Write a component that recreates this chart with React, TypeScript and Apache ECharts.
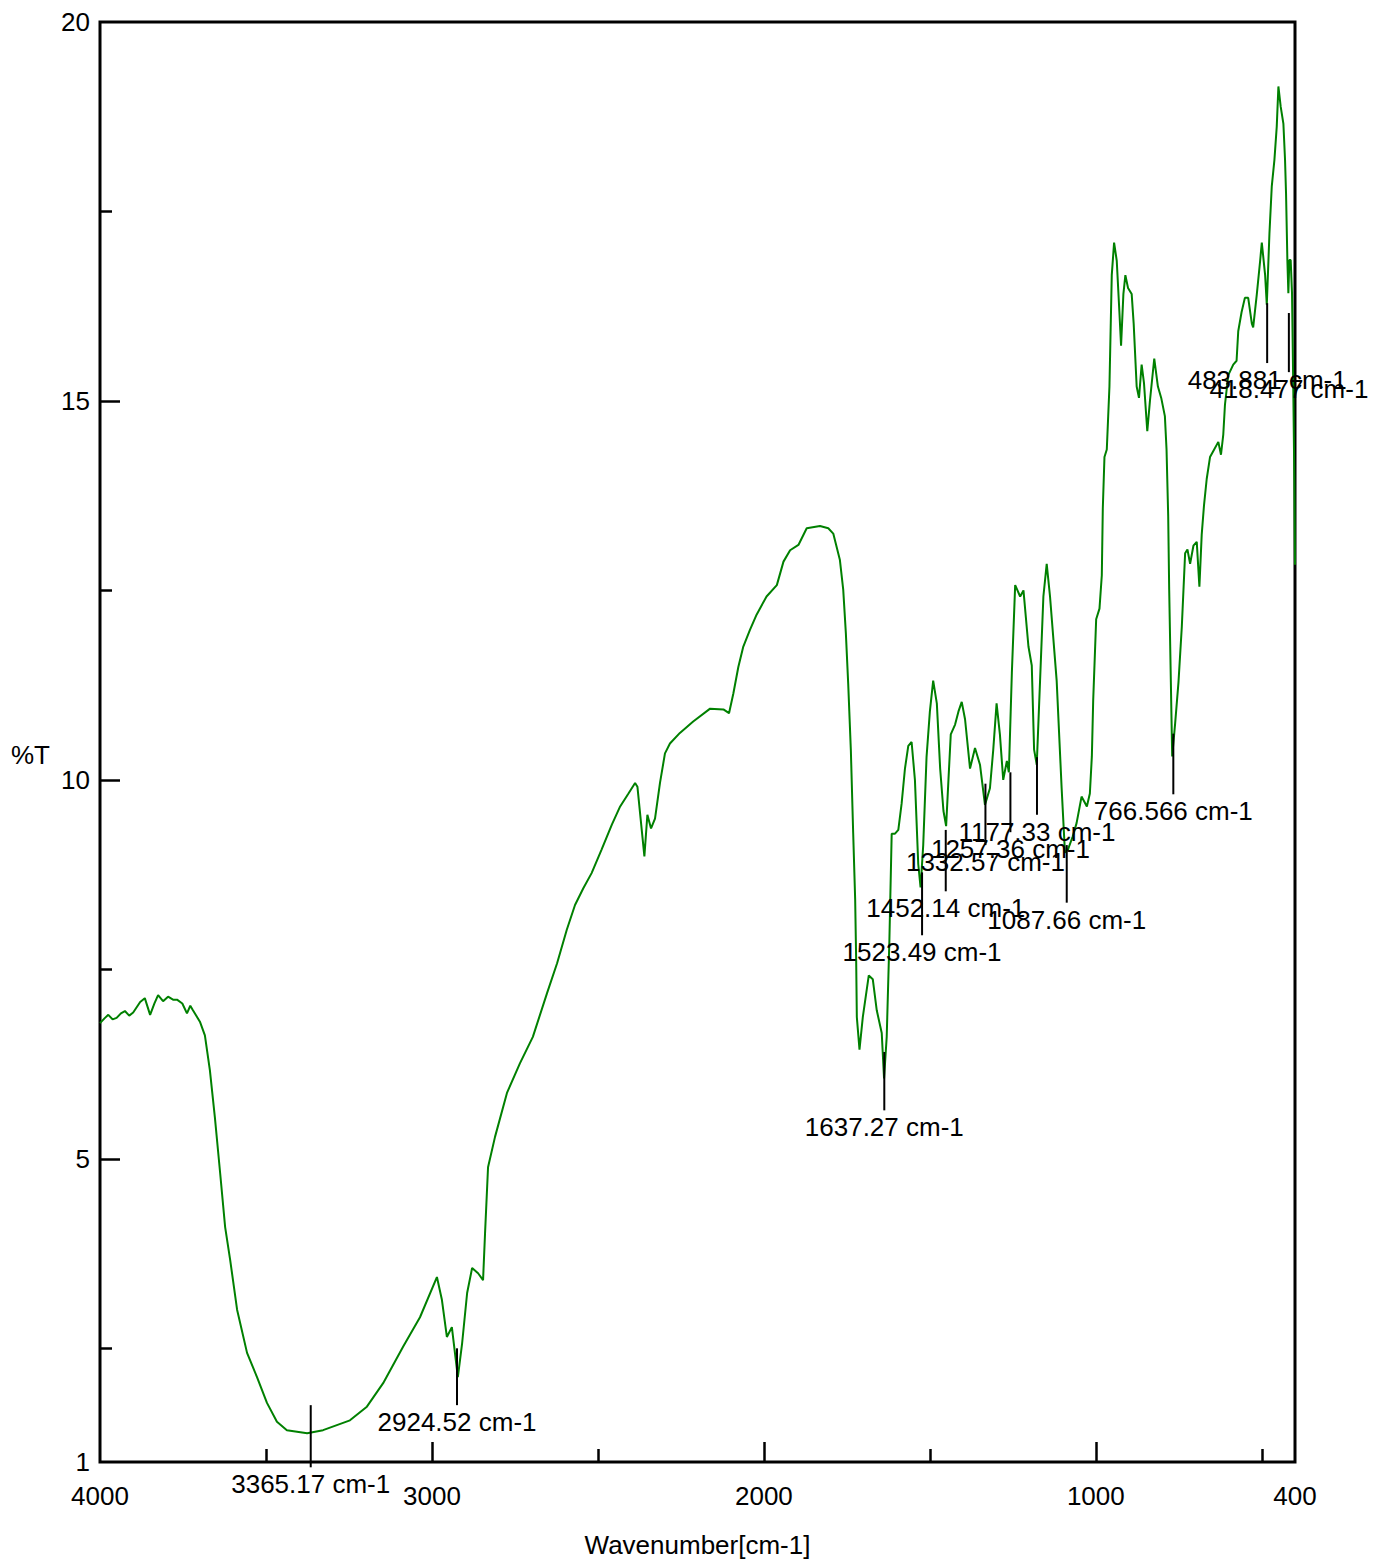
import React, { useEffect, useRef } from "react";
import * as echarts from "echarts";

const FONT = '"Liberation Sans", Arial, Helvetica, sans-serif';

// Spectrum: wavenumber (cm-1) and transmittance (%T)
const wavenumber = [
  4000, 3985, 3975, 3962, 3950, 3937, 3925, 3912, 3900, 3879, 3865, 3849, 3836, 3825, 3810, 3795, 3780, 3768, 3752, 3738, 3728, 3720,
  3699, 3684, 3669, 3654, 3638, 3623, 3608, 3587, 3557, 3527, 3497, 3467, 3437, 3376, 3328, 3247, 3196, 3147,
  3087, 3036, 2985, 2970, 2955, 2940, 2922, 2909, 2894, 2879, 2861, 2846, 2840, 2831, 2810, 2774, 2735, 2696,
  2653, 2623, 2594, 2569, 2544, 2519, 2489, 2458, 2433, 2408, 2388, 2381, 2368, 2360, 2351, 2340, 2328, 2313,
  2298, 2283, 2253, 2213, 2162, 2122, 2105, 2092, 2077, 2062, 2042, 2022, 1992, 1961, 1941, 1921, 1896, 1871,
  1831, 1806, 1791, 1771, 1761, 1753, 1746, 1738, 1731, 1725, 1722, 1720, 1712, 1702, 1684, 1672, 1660, 1645,
  1638, 1630, 1622, 1615, 1605, 1595, 1585, 1575, 1565, 1555, 1545, 1535, 1528, 1520, 1510, 1500, 1490, 1479,
  1469, 1459, 1451, 1444, 1437, 1424, 1414, 1404, 1394, 1379, 1364, 1349, 1334, 1319, 1309, 1299, 1289, 1279,
  1268, 1262, 1253, 1243, 1228, 1218, 1203, 1193, 1186, 1178, 1168, 1158, 1148, 1138, 1118, 1103, 1093, 1084,
  1070, 1058, 1043, 1027, 1018, 1012, 1008, 999, 989, 982, 979, 974, 967, 959, 952, 945, 937, 929, 924, 917,
  911, 903, 892, 886, 877, 870, 862, 855, 845, 837, 824, 813, 803, 792, 787, 782, 779, 774, 770, 761, 751, 741,
  731, 724, 716, 706, 696, 688, 681, 674, 666, 656, 646, 631, 623, 616, 611, 601, 586, 576, 571, 561, 551, 541,
  530, 526, 515, 505, 500, 490, 485, 477, 470, 462, 455, 450, 443, 435, 430, 427, 423, 420, 417, 413, 409, 405,
  402, 400,
];
const transmittance = [
  6.79, 6.86, 6.9, 6.84, 6.86, 6.92, 6.95, 6.89, 6.93, 7.07, 7.12, 6.9, 7.05, 7.16, 7.08, 7.14, 7.1, 7.1, 7.05, 6.92, 7.02, 6.96,
  6.81, 6.63, 6.17, 5.55, 4.81, 4.1, 3.67, 3.01, 2.44, 2.12, 1.78, 1.53, 1.42, 1.38, 1.42, 1.55, 1.73, 2.04,
  2.52, 2.91, 3.44, 3.14, 2.65, 2.78, 2.12, 2.57, 3.23, 3.56, 3.49, 3.4, 4.02, 4.89, 5.29, 5.87, 6.26, 6.61,
  7.19, 7.58, 8.02, 8.35, 8.57, 8.77, 9.08, 9.41, 9.65, 9.82, 9.96, 9.91, 9.34, 8.99, 9.54, 9.36, 9.49, 9.96,
  10.35, 10.48, 10.62, 10.77, 10.94, 10.93, 10.88, 11.14, 11.49, 11.76, 11.98, 12.18, 12.42, 12.57, 12.88, 13.03, 13.1, 13.32,
  13.35, 13.32, 13.25, 12.9, 12.51, 11.93, 11.27, 10.39, 9.3, 8.42, 7.62, 6.87, 6.44, 6.87, 7.42, 7.37, 6.96, 6.66,
  6.06, 6.61, 7.87, 9.29, 9.29, 9.34, 9.69, 10.15, 10.45, 10.5, 10.0, 8.89, 8.58, 9.14, 10.3, 10.9, 11.31, 11.01,
  10.15, 9.59, 9.39, 10.0, 10.6, 10.73, 10.9, 11.03, 10.8, 10.15, 10.42, 10.2, 9.67, 9.89, 10.4, 11.01, 10.6, 10.0,
  10.25, 10.1, 11.41, 12.57, 12.42, 12.5, 11.76, 11.51, 10.4, 10.2, 11.31, 12.42, 12.85, 12.42, 11.31, 9.89, 9.04, 9.08,
  9.25, 9.43, 9.78, 9.65, 9.82, 10.31, 11.04, 12.12, 12.26, 12.7, 13.58, 14.26, 14.36, 15.19, 16.66, 17.09, 16.85, 16.17, 15.73, 16.41,
  16.66, 16.49, 16.41, 16.02, 15.19, 15.04, 15.48, 15.24, 14.6, 15.0, 15.56, 15.19, 15.04, 14.8, 14.36, 13.48, 12.51, 11.29, 10.31, 10.75, 11.29, 12.02,
  12.99, 13.04, 12.85, 13.09, 13.14, 12.55, 13.24, 13.63, 13.97, 14.26, 14.34, 14.46, 14.29, 14.56, 14.95, 15.34, 15.48, 15.53, 15.92, 16.17, 16.36, 16.36,
  16.02, 15.97, 16.41, 16.85, 17.09, 16.66, 16.27, 17.21, 17.83, 18.18, 18.62, 19.15, 18.88, 18.66, 18.18, 17.74, 16.86, 16.42, 16.86, 16.86, 16.42, 15.1,
  13.96, 12.84,
];

// Peak picks: position, and the %T span of each marker line
const peakWavenumbers = [3365.17, 2924.52, 1637.27, 1523.49, 1452.14, 1332.57, 1257.36, 1177.33, 1087.66, 766.566, 483.881, 418.477];
const peakLineTop = [1.75, 2.5, 6.41, 8.78, 9.34, 9.95, 10.1, 10.3, 9.14, 10.61, 16.29, 16.16];
const peakLineBottom = [0.93, 1.75, 5.64, 7.95, 8.53, 9.14, 9.31, 9.54, 8.38, 9.81, 15.5, 15.38];

// Axis ticks and labels
const xTickLabels = [4000, 3000, 2000, 1000, 400];
const xMajorTicks = [3000, 2000, 1000];
const xMinorTicks = [3500, 2500, 1500, 500];
const yTickLabels = [1, 5, 10, 15, 20];
const yMajorTicks = [5, 10, 15];
const yMinorTicks = [2.5, 7.5, 12.5, 17.5];

export default function App() {
  const ref = useRef<HTMLDivElement>(null);

  useEffect(() => {
    if (!ref.current) return;
    const chart = echarts.init(ref.current, null, { renderer: "svg" });

    const spectrum = wavenumber.map((w, i) => [w, transmittance[i]]);
    const peaks = peakWavenumbers.map((w, i) => [w, peakLineTop[i], peakLineBottom[i]]);

    const tickLine = { color: "#000", width: 2.5 };
    const labelStyle = { fontSize: 26, color: "#000", fontFamily: FONT };
    const plain = (v: number) => String(v);

    chart.setOption({
      animation: false,
      backgroundColor: "#fff",
      textStyle: { fontFamily: FONT },
      grid: {
        left: 100,
        top: 22,
        right: 87,
        bottom: 102,
        show: true,
        borderColor: "#000",
        borderWidth: 3,
        backgroundColor: "transparent",
      },
      xAxis: [
        {
          type: "value",
          min: 400,
          max: 4000,
          inverse: true,
          position: "bottom",
          name: "Wavenumber[cm-1]",
          nameLocation: "middle",
          nameGap: 70,
          nameTextStyle: { ...labelStyle, verticalAlign: "top" },
          axisLine: { show: false },
          splitLine: { show: false },
          axisTick: { show: true, inside: true, length: 20, customValues: xMajorTicks, lineStyle: tickLine },
          axisLabel: { ...labelStyle, margin: 21, customValues: xTickLabels, formatter: plain },
        },
        {
          type: "value",
          min: 400,
          max: 4000,
          inverse: true,
          position: "bottom",
          axisLine: { show: false },
          splitLine: { show: false },
          axisLabel: { show: false },
          axisTick: { show: true, inside: true, length: 13, customValues: xMinorTicks, lineStyle: tickLine },
        },
      ],
      yAxis: [
        {
          type: "value",
          min: 1,
          max: 20,
          position: "left",
          name: "%T",
          nameLocation: "middle",
          nameRotate: 0,
          nameGap: 50,
          nameTextStyle: { ...labelStyle, verticalAlign: "top" },
          axisLine: { show: false },
          splitLine: { show: false },
          axisTick: { show: true, inside: true, length: 20, customValues: yMajorTicks, lineStyle: tickLine },
          axisLabel: { ...labelStyle, margin: 10, customValues: yTickLabels, formatter: plain },
        },
        {
          type: "value",
          min: 1,
          max: 20,
          position: "left",
          axisLine: { show: false },
          splitLine: { show: false },
          axisLabel: { show: false },
          axisTick: { show: true, inside: true, length: 12, customValues: yMinorTicks, lineStyle: tickLine },
        },
      ],
      series: [
        {
          type: "line",
          xAxisIndex: 0,
          yAxisIndex: 0,
          data: spectrum,
          showSymbol: false,
          symbol: "none",
          lineStyle: { color: "#008000", width: 2 },
          z: 3,
        },
        {
          type: "custom",
          xAxisIndex: 0,
          yAxisIndex: 0,
          clip: false,
          z: 5,
          data: peaks,
          encode: { x: 0, y: [1, 2] },
          renderItem: (params: any, api: any) => {
            const w = api.value(0);
            const p1 = api.coord([w, api.value(1)]);
            const p2 = api.coord([w, api.value(2)]);
            return {
              type: "group",
              children: [
                {
                  type: "line",
                  shape: { x1: p1[0], y1: p1[1], x2: p2[0], y2: p2[1] },
                  style: { stroke: "#000", lineWidth: 2 },
                },
                {
                  type: "text",
                  x: p2[0],
                  y: p2[1] + 17,
                  style: {
                    text: `${peakWavenumbers[params.dataIndex]} cm-1`,
                    fill: "#000",
                    fontSize: 26,
                    fontFamily: FONT,
                    align: "center",
                    verticalAlign: "middle",
                  },
                },
              ],
            };
          },
        },
      ],
    });

    return () => chart.dispose();
  }, []);

  return (
    <div
      ref={ref}
      style={{ position: "absolute", left: 0, top: 0, width: 1382, height: 1564, background: "#fff" }}
    />
  );
}
